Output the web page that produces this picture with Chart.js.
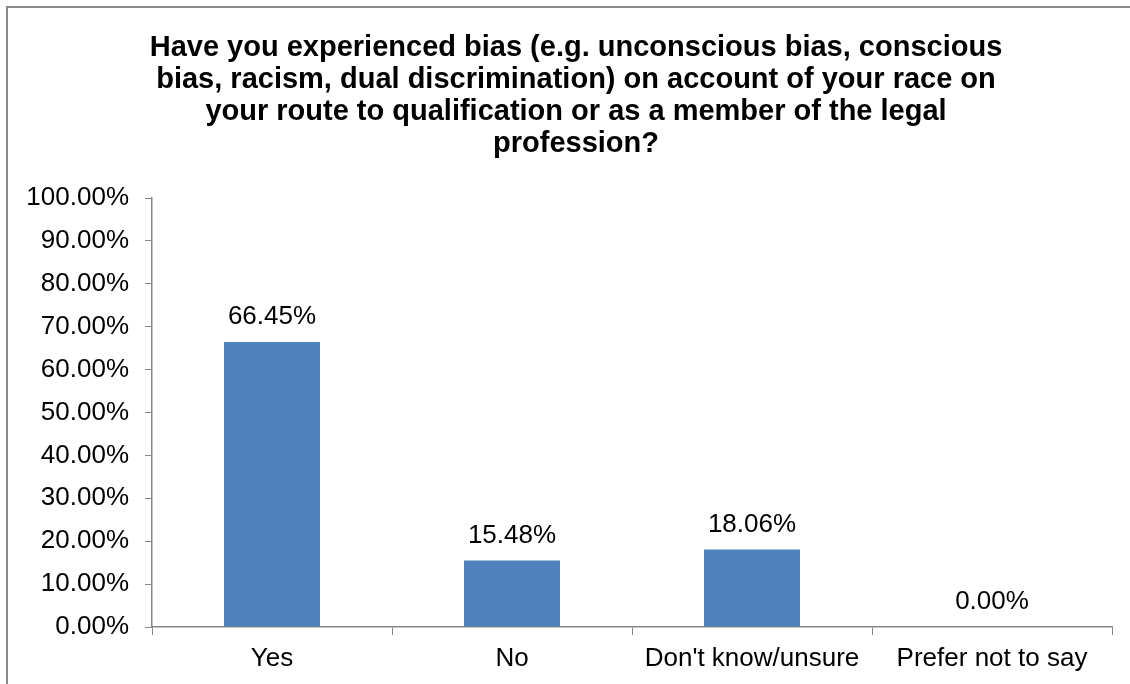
<!DOCTYPE html>
<html>
<head>
<meta charset="utf-8">
<script src="https://cdn.jsdelivr.net/npm/chart.js@4"></script>
<style>
    html, body { margin: 0; padding: 0; background: #fff; overflow: hidden; }
    #frame {
        position: absolute;
        left: 6px;
        top: 6px;
        border: 2px solid #898989;
        width: 1136px;
        height: 690px;
    }
</style>
</head>
<body>
<div id="frame">
    <canvas id="chart" width="1136" height="690"></canvas>
</div>
<script>
// Chart data
const categories = ['Yes', 'No', "Don't know/unsure", 'Prefer not to say'];
const percentages = [66.45, 15.48, 18.06, 0.00];
const titleLines = [
    'Have you experienced bias (e.g. unconscious bias, conscious',
    'bias, racism, dual discrimination) on account of your race on',
    'your route to qualification or as a member of the legal',
    'profession?'
];

const FONT = '"Liberation Sans", Arial, sans-serif';
const AXIS_GREY = '#868686';

// Title centred on the whole frame (the built-in title centres on the padded box)
const frameTitle = {
    id: 'frameTitle',
    afterDraw(chart) {
        const ctx = chart.ctx;
        ctx.save();
        ctx.font = 'bold 29px ' + FONT;
        ctx.fillStyle = '#000';
        ctx.textAlign = 'center';
        ctx.textBaseline = 'middle';
        titleLines.forEach((line, i) => {
            ctx.fillText(line, chart.width / 2, 40 + i * 32);
        });
        ctx.restore();
    }
};

// Draw value labels above each bar
const valueLabels = {
    id: 'valueLabels',
    afterDatasetsDraw(chart) {
        const ctx = chart.ctx;
        const meta = chart.getDatasetMeta(0);
        ctx.save();
        ctx.font = '26px ' + FONT;
        ctx.fillStyle = '#000';
        ctx.textAlign = 'center';
        ctx.textBaseline = 'middle';
        meta.data.forEach((bar, i) => {
            ctx.fillText(percentages[i].toFixed(2) + '%', bar.x, bar.y - 25);
        });
        ctx.restore();
    }
};

const ctx = document.getElementById('chart').getContext('2d');
new Chart(ctx, {
    type: 'bar',
    data: {
        labels: categories,
        datasets: [{
            data: percentages,
            backgroundColor: '#4F81BD',
            categoryPercentage: 1,
            barPercentage: 0.4
        }]
    },
    options: {
        responsive: false,
        animation: false,
        layout: {
            padding: { left: 0, right: 32, top: 190, bottom: 21 }
        },
        plugins: {
            legend: { display: false },
            tooltip: { enabled: false },
            title: { display: false }
        },
        scales: {
            x: {
                afterFit(scale) { scale.height = 50; },
                grid: {
                    offset: true,
                    drawOnChartArea: false,
                    drawTicks: true,
                    tickLength: 8,
                    color: AXIS_GREY
                },
                border: { color: AXIS_GREY, width: 1.5 },
                ticks: {
                    color: '#000',
                    padding: 8,
                    maxRotation: 0,
                    font: { family: FONT, size: 26 }
                }
            },
            y: {
                min: 0,
                max: 100,
                afterFit(scale) { scale.width = 144; },
                grid: {
                    drawOnChartArea: false,
                    drawTicks: true,
                    tickLength: 7,
                    color: AXIS_GREY
                },
                border: { color: AXIS_GREY, width: 1.5 },
                ticks: {
                    stepSize: 10,
                    color: '#000',
                    padding: 16,
                    font: { family: FONT, size: 26 },
                    callback: value => value.toFixed(2) + '%'
                }
            }
        }
    },
    plugins: [valueLabels, frameTitle]
});
</script>
</body>
</html>
